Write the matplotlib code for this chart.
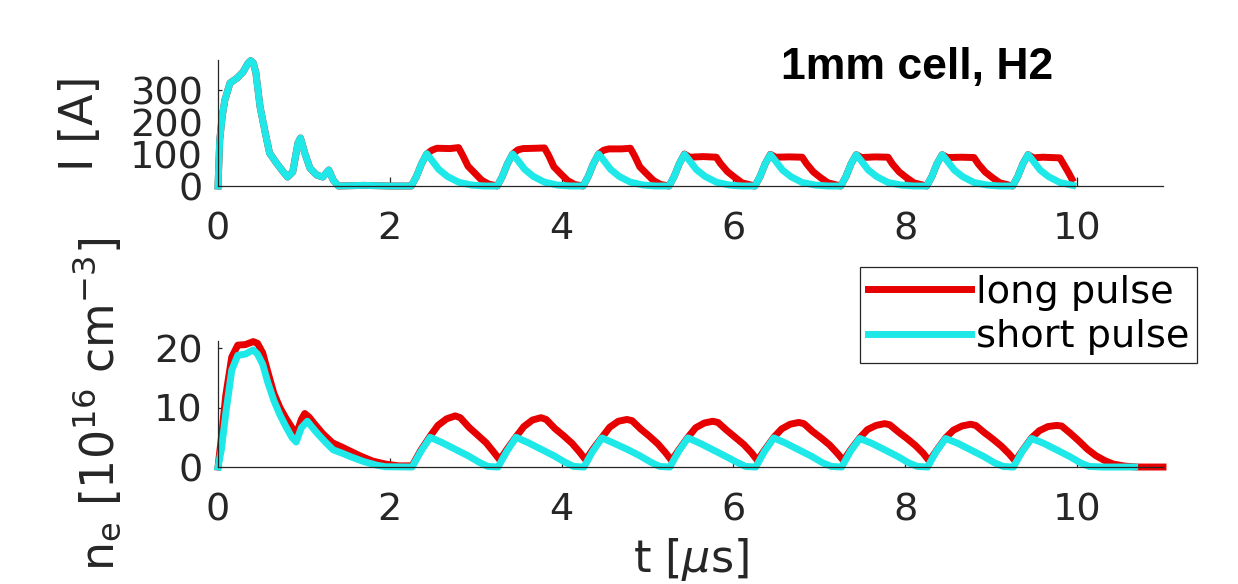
import matplotlib
matplotlib.use('Agg')
import matplotlib.pyplot as plt

# --- current trace, I [A] ---
t_I_start = [0, 0.02, 0.05, 0.08, 0.14, 0.22, 0.29, 0.35, 0.38, 0.41, 0.44, 0.49, 0.55, 0.60,
             0.68, 0.76, 0.81, 0.87, 0.93, 0.96, 1.01, 1.07, 1.15, 1.22, 1.29, 1.34, 1.40,
             1.70, 2.00, 2.25]
I_start = [0, 144, 220, 269, 322, 337, 356, 384, 392, 385, 355, 247, 166, 103,
           72, 44, 28, 44, 134, 150, 103, 56, 34, 28, 50, 19, 0,
           2, 0, 0]

t_I_long = [2.31, 2.37, 2.43, 2.49, 2.55, 2.70, 2.80, 2.85, 2.91, 2.99, 3.07, 3.15, 3.25,
            3.31, 3.37, 3.43, 3.49, 3.55, 3.70, 3.80, 3.85, 3.91, 3.99, 4.07, 4.15, 4.25,
            4.31, 4.37, 4.43, 4.49, 4.55, 4.70, 4.80, 4.85, 4.91, 4.99, 5.07, 5.15, 5.25,
            5.31, 5.37, 5.43, 5.49, 5.65, 5.80, 5.85, 5.93, 6.01, 6.10, 6.25,
            6.31, 6.37, 6.43, 6.49, 6.65, 6.80, 6.85, 6.93, 7.01, 7.10, 7.25,
            7.31, 7.37, 7.43, 7.49, 7.65, 7.80, 7.85, 7.93, 8.01, 8.10, 8.25,
            8.31, 8.37, 8.43, 8.49, 8.65, 8.80, 8.85, 8.93, 9.01, 9.10, 9.25,
            9.31, 9.37, 9.43, 9.49, 9.60, 9.80, 9.85, 9.90, 9.94]
I_long = [30, 70, 100, 112, 118, 117, 120, 95, 62, 40, 18, 6, 0,
          30, 70, 100, 113, 117, 118, 119, 95, 60, 38, 17, 5, 0,
          30, 70, 100, 112, 116, 116, 118, 94, 60, 38, 17, 5, 0,
          30, 70, 100, 90, 92, 90, 70, 45, 28, 10, 0,
          30, 70, 99, 90, 91, 90, 70, 44, 27, 10, 0,
          30, 70, 98, 89, 91, 90, 69, 44, 27, 10, 0,
          30, 70, 98, 89, 90, 89, 69, 44, 27, 10, 0,
          30, 70, 98, 88, 90, 88, 65, 42, 22]

t_I_short = [2.31, 2.37, 2.43, 2.49, 2.57, 2.67, 2.80, 2.95, 3.10, 3.25,
             3.31, 3.37, 3.43, 3.49, 3.57, 3.67, 3.80, 3.95, 4.10, 4.25,
             4.31, 4.37, 4.43, 4.49, 4.57, 4.67, 4.80, 4.95, 5.10, 5.25,
             5.31, 5.37, 5.43, 5.49, 5.57, 5.67, 5.80, 5.95, 6.10, 6.25,
             6.31, 6.37, 6.43, 6.49, 6.57, 6.67, 6.80, 6.95, 7.10, 7.25,
             7.31, 7.37, 7.43, 7.49, 7.57, 7.67, 7.80, 7.95, 8.10, 8.25,
             8.31, 8.37, 8.43, 8.49, 8.57, 8.67, 8.80, 8.95, 9.10, 9.25,
             9.31, 9.37, 9.43, 9.49, 9.57, 9.67, 9.80, 9.95]
I_short = [30, 70, 101, 80, 52, 30, 12, 3, 0, 0,
           30, 70, 100, 80, 52, 30, 12, 3, 0, 0,
           30, 70, 100, 80, 52, 30, 12, 3, 0, 0,
           30, 70, 99, 79, 51, 30, 12, 3, 0, 0,
           30, 70, 98, 78, 50, 29, 11, 3, 0, 0,
           30, 70, 98, 78, 50, 29, 11, 3, 0, 0,
           30, 70, 98, 78, 50, 29, 11, 3, 0, 0,
           30, 70, 98, 78, 50, 29, 11, 2]

# --- electron density, n_e [1e16 cm^-3] ---
t_ne_long = [0, 0.04, 0.09, 0.16, 0.23, 0.32, 0.41, 0.46, 0.52, 0.58, 0.65, 0.72, 0.79, 0.87,
             0.92, 0.97, 1.01, 1.06, 1.12, 1.22, 1.33, 1.45, 1.55, 1.65, 1.80, 1.95, 2.10, 2.26,
             2.36, 2.47, 2.56, 2.66, 2.76, 2.82, 2.92, 3.02, 3.12, 3.21, 3.28,
             3.36, 3.47, 3.56, 3.66, 3.76, 3.82, 3.92, 4.02, 4.12, 4.21, 4.28,
             4.36, 4.47, 4.56, 4.66, 4.76, 4.82, 4.92, 5.02, 5.12, 5.21, 5.28,
             5.36, 5.47, 5.56, 5.66, 5.76, 5.82, 5.92, 6.02, 6.12, 6.21, 6.28,
             6.36, 6.47, 6.56, 6.66, 6.76, 6.82, 6.92, 7.02, 7.12, 7.21, 7.28,
             7.36, 7.47, 7.56, 7.66, 7.76, 7.82, 7.92, 8.02, 8.12, 8.21, 8.28,
             8.36, 8.47, 8.56, 8.66, 8.76, 8.82, 8.92, 9.02, 9.12, 9.21, 9.28,
             9.36, 9.47, 9.56, 9.66, 9.76, 9.82, 9.92, 10.02, 10.12, 10.22, 10.32,
             10.42, 10.56, 10.70, 11.00]
ne_long = [0, 5, 12, 18.5, 20.5, 20.6, 21.1, 20.8, 19.2, 16.0, 12.4, 10.0, 8.2, 6.4,
           5.8, 8.0, 9.0, 8.4, 7.3, 5.6, 4.1, 3.3, 2.6, 1.9, 1.0, 0.5, 0.2, 0.2,
           2.8, 5.2, 7.0, 8.1, 8.6, 8.3, 6.7, 5.4, 4.1, 2.5, 1.2,
           2.9, 5.1, 6.8, 7.9, 8.3, 8.0, 6.5, 5.3, 4.0, 2.5, 1.2,
           2.9, 5.0, 6.7, 7.7, 8.0, 7.8, 6.4, 5.2, 3.9, 2.4, 1.1,
           2.8, 5.0, 6.6, 7.4, 7.7, 7.5, 6.2, 5.0, 3.8, 2.4, 1.1,
           2.8, 5.0, 6.4, 7.2, 7.5, 7.3, 6.0, 4.9, 3.7, 2.3, 1.1,
           2.8, 4.9, 6.3, 7.0, 7.3, 7.1, 5.9, 4.8, 3.6, 2.3, 1.0,
           2.7, 4.9, 6.2, 6.9, 7.2, 7.0, 5.8, 4.7, 3.5, 2.2, 1.0,
           2.7, 4.9, 6.1, 6.8, 7.0, 6.9, 5.7, 4.4, 3.0, 1.9, 1.1,
           0.5, 0.15, 0, 0]

t_ne_short = [0, 0.04, 0.09, 0.16, 0.23, 0.32, 0.41, 0.46, 0.52, 0.58, 0.65, 0.72, 0.79, 0.86,
              0.91, 0.97, 1.04, 1.09, 1.16, 1.25, 1.34, 1.45, 1.55, 1.70, 1.85, 1.95, 2.26,
              2.36, 2.47, 2.61, 2.76, 2.91, 3.04, 3.14, 3.26,
              3.36, 3.47, 3.61, 3.76, 3.91, 4.04, 4.14, 4.26,
              4.36, 4.47, 4.61, 4.76, 4.91, 5.04, 5.14, 5.26,
              5.36, 5.47, 5.61, 5.76, 5.91, 6.04, 6.14, 6.26,
              6.36, 6.47, 6.61, 6.76, 6.91, 7.04, 7.14, 7.26,
              7.36, 7.47, 7.61, 7.76, 7.91, 8.04, 8.14, 8.26,
              8.36, 8.47, 8.61, 8.76, 8.91, 9.04, 9.14, 9.26,
              9.36, 9.47, 9.61, 9.76, 9.91, 10.04, 10.14, 10.30, 10.67]
ne_short = [0, 3, 9, 16.3, 18.8, 19.0, 19.7, 19.0, 17.3, 14.2, 11.2, 8.8, 6.8, 5.0,
            4.2, 6.6, 7.7, 6.8, 5.6, 4.2, 2.9, 2.3, 1.7, 0.9, 0.3, 0.05, 0,
            2.6, 5.0, 4.1, 3.0, 1.9, 0.8, 0.1, 0,
            2.6, 5.0, 4.1, 3.0, 1.9, 0.8, 0.1, 0,
            2.6, 4.9, 4.0, 3.0, 1.9, 0.8, 0.1, 0,
            2.6, 4.9, 4.0, 2.9, 1.8, 0.8, 0.1, 0,
            2.6, 4.9, 4.0, 2.9, 1.8, 0.7, 0.1, 0,
            2.6, 4.8, 4.0, 2.9, 1.8, 0.7, 0.1, 0,
            2.6, 4.8, 4.0, 2.9, 1.8, 0.7, 0.1, 0,
            2.6, 4.8, 4.0, 2.9, 1.8, 0.7, 0.1, 0, 0]

x_ticks = [0, 2, 4, 6, 8, 10]
I_ticks = [0, 100, 200, 300]
ne_ticks = [0, 10, 20]

RED = '#e60000'
CYAN = '#1ee8e8'
INK = '#262626'

plt.rcParams['font.family'] = 'DejaVu Sans'
plt.rcParams['mathtext.fontset'] = 'dejavusans'

fig = plt.figure(figsize=(12.38, 5.84), dpi=100)
ax1 = fig.add_axes([0.1761, 0.6815, 0.7633, 0.2158])
ax2 = fig.add_axes([0.1761, 0.2003, 0.7633, 0.2158])

ax1.plot(t_I_start + t_I_long, I_start + I_long, color=RED, lw=5, clip_on=False,
         solid_joinstyle='round')
ax1.plot(t_I_start + t_I_short, I_start + I_short, color=CYAN, lw=5, clip_on=False,
         solid_joinstyle='round')
ax2.plot(t_ne_long, ne_long, color=RED, lw=5, clip_on=False, label='long pulse',
         solid_joinstyle='round')
ax2.plot(t_ne_short, ne_short, color=CYAN, lw=5, clip_on=False, label='short pulse',
         solid_joinstyle='round')

for ax, yt in ((ax1, I_ticks), (ax2, ne_ticks)):
    ax.set_xlim(0, 11)
    ax.set_xticks(x_ticks)
    ax.set_yticks(yt)
    for s in ('top', 'right'):
        ax.spines[s].set_visible(False)
    for s in ('left', 'bottom'):
        ax.spines[s].set_color(INK)
        ax.spines[s].set_linewidth(0.9)
    ax.tick_params(axis='both', direction='in', colors=INK, labelsize=27.5, width=0.9)
    ax.tick_params(axis='x', length=6.5, pad=18)
    ax.tick_params(axis='y', length=3, pad=11)

ax1.set_ylim(0, 394)
ax2.set_ylim(0, 21.2)

ax1.set_ylabel('I [A]', fontsize=33, color=INK)
ax1.yaxis.set_label_coords(-0.122, 0.5)
ax2.set_ylabel(r'n$_{\rm e}$ [10$^{16}$ cm$^{-3}$]', fontsize=33, color=INK)
ax2.yaxis.set_label_coords(-0.0995, 0.5)
ax2.set_xlabel(r't [$\mu$s]', fontsize=32, color=INK)
ax2.xaxis.set_label_coords(0.5, -0.55)

leg = ax2.legend(loc='upper right', bbox_to_anchor=(1197 / 1238, 1 - 267 / 584),
                 bbox_transform=fig.transFigure, fontsize=27.5, frameon=True,
                 fancybox=False, framealpha=1, edgecolor=INK, borderpad=0.2,
                 labelspacing=0.22, handlelength=2.7, handletextpad=0.13,
                 borderaxespad=0)
leg.get_frame().set_linewidth(0.9)

fig.text(0.7407, 0.8836, '1mm cell, H2', fontsize=32, fontweight='bold',
         family='Liberation Sans', ha='center', va='center', color='black')

fig.savefig('out.png', dpi=100)
